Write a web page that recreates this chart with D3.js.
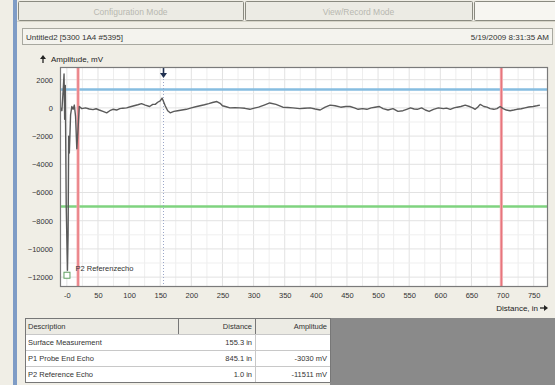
<!DOCTYPE html>
<html><head><meta charset="utf-8">
<script src="https://cdn.jsdelivr.net/npm/d3@7"></script>
<style>
html,body{margin:0;padding:0;background:#f0eee6;}
svg{display:block;font-family:"Liberation Sans",Arial,sans-serif;}
</style></head>
<body>
<svg id="c" width="555" height="385"></svg>
<script>
// ---- data ----
const xTicks = [0,50,100,150,200,250,300,350,400,450,500,550,600,650,700,750];
const xTickLabels = ["-0","50","100","150","200","250","300","350","400","450","500","550","600","650","700","750"];
const yTicks = [2000,0,-2000,-4000,-6000,-8000,-10000,-12000];
const distance = [-10,-8,-6,-4.5,-3.5,-2.5,-1,1,2,3,4,6,8,10,12,14,16,18,20,24,30,36,42,47,52,58,64,69,74,80,85,90,96,102,108,114,120,126,133,138,142,146,150,153,158,162,166,172,178,185,192,200,207,214,221,228,234,241,247,250,256,262,270,278,286,294,301,308,317,326,336,347,355,363,374,382,391,399,407,415,423,431,440,448,455,462,468,475,482,489,495,502,508,516,524,532,540,546,552,558,563,570,576,582,589,597,605,610,616,622,627,633,640,648,652,656,660,664,670,675,680,686,691,696,701,706,712,718,723,730,736,742,749,755,760,766,772];
const amplitude = [0,-200,1200,2400,-800,1600,-7000,-11511,-9000,-2000,-3200,-500,100,-100,200,-600,-2900,-1500,100,-50,0,-80,-120,-60,-150,-250,-350,-200,-100,-150,-50,-20,0,80,150,220,300,200,100,250,250,400,500,700,150,-200,-350,-250,-200,-150,-100,0,80,150,220,300,380,450,300,150,80,0,20,0,-30,-100,-20,50,200,350,250,50,30,0,-50,-30,0,-80,-150,50,200,150,50,100,100,0,-100,-50,-100,0,50,100,-50,-150,-50,-250,-200,-100,0,-80,-100,0,-150,-250,-100,0,-50,-20,-100,0,50,100,200,80,0,-100,50,250,100,50,-50,-100,-50,100,-50,-150,-200,-150,-100,-60,0,60,100,150,200];
const markers = {surface:155.3, leftRed:18, rightRed:698, blueLevel:1300, greenLevel:-7000};
const refEcho = {distance:1.0, amplitude:-11511, label:"P2 Referenzecho"};
const tableHeader = ["Description","Distance","Amplitude"];
const tableDesc = ["Surface Measurement","P1 Probe End Echo","P2 Reference Echo"];
const tableDist = ["155.3 in","845.1 in","1.0 in"];
const tableAmp = ["","-3030 mV","-11511 mV"];
const tabs = ["Configuration Mode","View/Record Mode"];
const title = "Untitled2 [5300 1A4 #5395]";
const stamp = "5/19/2009 8:31:35 AM";

const svg = d3.select("#c");
// window chrome
svg.append("rect").attr("x",0).attr("y",0).attr("width",555).attr("height",385).attr("fill","#f0eee6");
svg.append("rect").attr("x",13).attr("y",0).attr("width",4).attr("height",385).attr("fill","#7f9cc6");
// tabs
const tabX=[[18,243],[245,472],[474,560]];
tabX.forEach((t,i)=>{
  svg.append("rect").attr("x",t[0]+0.5).attr("y",1.5).attr("width",t[1]-t[0]).attr("height",19)
    .attr("fill",i==2?"#f7f6f1":"#ecebe4").attr("stroke","#8a8a80").attr("rx",1);
  if(i<2) svg.append("text").attr("x",(t[0]+t[1])/2).attr("y",14.5).attr("text-anchor","middle")
    .attr("font-size",8.5).attr("fill","#b8b8b0").text(tabs[i]);
});
svg.append("line").attr("x1",17).attr("x2",555).attr("y1",21.5).attr("y2",21.5).attr("stroke","#d6d4c8");
// header box
svg.append("rect").attr("x",22.5).attr("y",28.5).attr("width",530).attr("height",16).attr("fill","#f4f3ee").attr("stroke","#a8a8a0");
svg.append("text").attr("x",26).attr("y",40).attr("font-size",8).attr("fill","#333").text(title);
svg.append("text").attr("x",549).attr("y",40).attr("text-anchor","end").attr("font-size",8).attr("fill","#333").text(stamp);

// plot
const L=60,R=548,T=67,B=287;
const x=d3.scaleLinear().domain([-11,773]).range([L,R]);
const y=d3.scaleLinear().domain([2900,-12700]).range([T,B]);
svg.append("rect").attr("x",L).attr("y",T).attr("width",R-L).attr("height",B-T).attr("fill","#ffffff");
const g=svg.append("g");
// grid
d3.range(0,775,25).forEach(v=>{
  g.append("line").attr("x1",x(v)).attr("x2",x(v)).attr("y1",T).attr("y2",B)
   .attr("stroke",v%50==0?"#e2e2e2":"#eeeeee").attr("stroke-width",1);
});
d3.range(2000,-12700,-1000).forEach(v=>{
  g.append("line").attr("x1",L).attr("x2",R).attr("y1",y(v)).attr("y2",y(v))
   .attr("stroke",v%2000==0?"#e2e2e2":"#efefef").attr("stroke-width",1);
});
// level lines
g.append("line").attr("x1",L).attr("x2",R).attr("y1",y(markers.blueLevel)).attr("y2",y(markers.blueLevel))
 .attr("stroke","#86bde0").attr("stroke-width",2.5);
g.append("line").attr("x1",L).attr("x2",R).attr("y1",y(markers.greenLevel)).attr("y2",y(markers.greenLevel))
 .attr("stroke","#7fd37f").attr("stroke-width",2.5);
// surface dotted line
g.append("line").attr("x1",x(markers.surface)).attr("x2",x(markers.surface)).attr("y1",T).attr("y2",B)
 .attr("stroke","#9aa6c8").attr("stroke-width",1).attr("stroke-dasharray","1,2");
// red lines
[markers.leftRed,markers.rightRed].forEach(v=>{
  g.append("line").attr("x1",x(v)).attr("x2",x(v)).attr("y1",T).attr("y2",B)
   .attr("stroke","#f4a8ac").attr("stroke-width",3);
  g.append("line").attr("x1",x(v)).attr("x2",x(v)).attr("y1",T).attr("y2",B)
   .attr("stroke","#e46a72").attr("stroke-width",1);
});
// waveform
const pts=distance.map((d,i)=>[d,amplitude[i]]);
g.append("path").datum(pts).attr("fill","none").attr("stroke","#5a5a5a").attr("stroke-width",1.4)
 .attr("stroke-linejoin","round")
 .attr("d",d3.line().x(d=>x(d[0])).y(d=>y(d[1])));
// arrow marker at surface
const ax=x(markers.surface);
g.append("line").attr("x1",ax).attr("x2",ax).attr("y1",T+1).attr("y2",T+8).attr("stroke","#203050").attr("stroke-width",1.6);
g.append("path").attr("d",`M${ax-3.5},${T+6} L${ax+3.5},${T+6} L${ax},${T+11} Z`).attr("fill","#203050");
// reference echo marker
g.append("rect").attr("x",x(refEcho.distance)-3.5).attr("y",y(refEcho.amplitude)+2).attr("width",6).attr("height",6)
 .attr("fill","#ffffff").attr("stroke","#60a060");
g.append("text").attr("x",x(refEcho.distance)+8).attr("y",y(refEcho.amplitude)+1).attr("font-size",7.5).attr("fill","#333").text(refEcho.label);
// border
svg.append("rect").attr("x",L+0.5).attr("y",T+0.5).attr("width",R-L-1).attr("height",B-T-1).attr("fill","none").attr("stroke","#7a7a7a").attr("stroke-width",1.2);

// axes
const xa=svg.append("g").attr("transform",`translate(0,${B})`)
 .call(d3.axisBottom(x).tickValues(xTicks).tickSize(0).tickPadding(6).tickFormat((d,i)=>xTickLabels[i]));
xa.select(".domain").remove();
xa.selectAll("text").attr("font-size",7.5).attr("fill","#333").attr("font-family","Liberation Sans,Arial,sans-serif");
const ya=svg.append("g").attr("transform",`translate(${L},0)`)
 .call(d3.axisLeft(y).tickValues(yTicks).tickSize(0).tickPadding(7).tickFormat(d3.format("d")));
ya.select(".domain").remove();
ya.selectAll("text").attr("font-size",7.5).attr("fill","#333").attr("font-family","Liberation Sans,Arial,sans-serif");

// axis titles
svg.append("path").attr("d","M43,55 L46,59 L40,59 Z").attr("fill","#222");
svg.append("line").attr("x1",43).attr("x2",43).attr("y1",58).attr("y2",63).attr("stroke","#222").attr("stroke-width",1.3);
svg.append("text").attr("x",51).attr("y",62).attr("font-size",8).attr("fill","#222").text("Amplitude, mV");
svg.append("text").attr("x",538).attr("y",311).attr("text-anchor","end").attr("font-size",8).attr("fill","#222").text("Distance, in");
svg.append("path").attr("d","M548,308 L544,305 L544,311 Z").attr("fill","#222");
svg.append("line").attr("x1",540).attr("x2",545).attr("y1",308).attr("y2",308).attr("stroke","#222").attr("stroke-width",1.3);

// table
svg.append("rect").attr("x",330).attr("y",318).attr("width",225).attr("height",67).attr("fill","#8a8a8a");
const rowY=[318,334,350,366,382];
svg.append("rect").attr("x",25).attr("y",318).attr("width",305).attr("height",16).attr("fill","#ecebe4");
svg.append("rect").attr("x",25).attr("y",334).attr("width",305).attr("height",48).attr("fill","#ffffff");
rowY.forEach(v=>svg.append("line").attr("x1",25).attr("x2",330).attr("y1",v+0.5).attr("y2",v+0.5).attr("stroke",v==318||v==382?"#777":"#c8c8c8"));
svg.append("line").attr("x1",25.5).attr("x2",25.5).attr("y1",318).attr("y2",382).attr("stroke","#777");
svg.append("line").attr("x1",330.5).attr("x2",330.5).attr("y1",318).attr("y2",382).attr("stroke","#777");
svg.append("line").attr("x1",178.5).attr("x2",178.5).attr("y1",318).attr("y2",334).attr("stroke","#777");
svg.append("line").attr("x1",255.5).attr("x2",255.5).attr("y1",318).attr("y2",382).attr("stroke","#c8c8c8");
svg.append("line").attr("x1",255.5).attr("x2",255.5).attr("y1",318).attr("y2",334).attr("stroke","#777");
svg.append("text").attr("x",28).attr("y",329).attr("font-size",7.5).attr("fill","#333").text(tableHeader[0]);
svg.append("text").attr("x",252).attr("y",329).attr("text-anchor","end").attr("font-size",7.5).attr("fill","#333").text(tableHeader[1]);
svg.append("text").attr("x",327).attr("y",329).attr("text-anchor","end").attr("font-size",7.5).attr("fill","#333").text(tableHeader[2]);
tableDesc.forEach((d,i)=>{
  const yy=rowY[i+1]+11;
  svg.append("text").attr("x",28).attr("y",yy).attr("font-size",7.5).attr("fill","#333").text(d);
  svg.append("text").attr("x",252).attr("y",yy).attr("text-anchor","end").attr("font-size",7.5).attr("fill","#333").text(tableDist[i]);
  svg.append("text").attr("x",327).attr("y",yy).attr("text-anchor","end").attr("font-size",7.5).attr("fill","#333").text(tableAmp[i]);
});
</script>
</body></html>
